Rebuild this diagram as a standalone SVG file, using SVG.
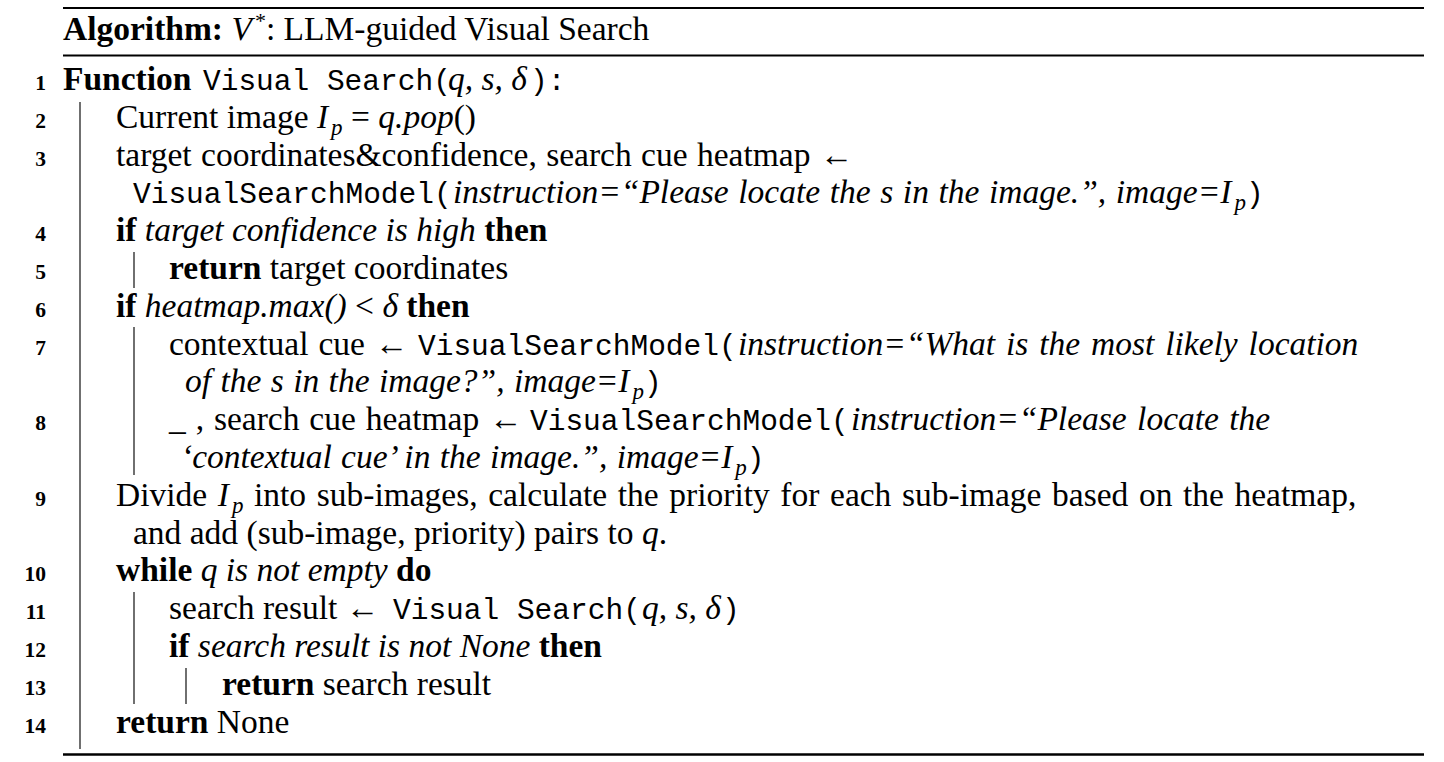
<svg xmlns="http://www.w3.org/2000/svg" width="1444" height="762" viewBox="0 0 1444 762">
<style>
text{font-family:"Liberation Serif","Times New Roman",serif;font-size:33.5px;fill:#000}
.b{font-weight:bold}
.i{font-style:italic}
.m{font-family:"Liberation Mono","Courier New",monospace;font-size:29.5px;font-style:normal;font-weight:normal}
.sub{font-size:23px;font-style:italic}
.n{font-weight:bold;font-size:21.5px;text-anchor:end}
.rule{stroke:#000;fill:none}
.bar{stroke:#222;stroke-width:1.3;fill:none}
</style>
<rect width="1444" height="762" fill="#fff"/>
<g id="rules">
<line class="rule" x1="63" y1="8" x2="1424" y2="8" stroke-width="2.2"/>
<line class="rule" x1="63" y1="55.5" x2="1424" y2="55.5" stroke-width="1.8"/>
<line class="rule" x1="63" y1="754.5" x2="1424" y2="754.5" stroke-width="2.4"/>
</g>
<g id="title">
<text x="63" y="40"><tspan class="b">Algorithm:</tspan> <tspan class="i">V</tspan><tspan font-size="22" dx="3" dy="-12">*</tspan><tspan dy="12">: LLM-guided Visual Search</tspan></text>
</g>
<g id="connectors">
<line class="bar" x1="80" y1="102" x2="80" y2="749"/>
<line class="bar" x1="134" y1="252" x2="134" y2="288"/>
<line class="bar" x1="134" y1="327" x2="134" y2="475"/>
<line class="bar" x1="134" y1="592" x2="134" y2="704"/>
<line class="bar" x1="186" y1="668" x2="186" y2="704"/>
</g>
<g id="linenumbers">
<text class="n" x="46" y="90">1</text>
<text class="n" x="46" y="127.8">2</text>
<text class="n" x="46" y="165.6">3</text>
<text class="n" x="46" y="241.2">4</text>
<text class="n" x="46" y="279">5</text>
<text class="n" x="46" y="316.8">6</text>
<text class="n" x="46" y="354.6">7</text>
<text class="n" x="46" y="430.2">8</text>
<text class="n" x="46" y="505.8">9</text>
<text class="n" x="46" y="581.4">10</text>
<text class="n" x="46" y="619.2">11</text>
<text class="n" x="46" y="657">12</text>
<text class="n" x="46" y="694.8">13</text>
<text class="n" x="46" y="732.6">14</text>
</g>
<g id="line1">
<text x="63" y="90"><tspan class="b">Function</tspan><tspan class="m" x="203">Visual Search(</tspan><tspan class="i" x="448">q, s, δ</tspan><tspan class="m" x="530">):</tspan></text>
</g>
<g id="line2">
<text x="116" y="127.8">Current image <tspan class="i">I</tspan><tspan class="sub" dx="3" dy="7">p</tspan><tspan dy="-7"> = </tspan><tspan class="i">q.pop</tspan>()</text>
</g>
<g id="line3">
<text x="116" y="165.6" word-spacing="1">target coordinates&amp;confidence, search cue heatmap ←</text>
<text y="203.4"><tspan class="m" x="133">VisualSearchModel(</tspan><tspan class="i" x="453" word-spacing="1.2">instruction=“Please locate the s in the image.”, image=I</tspan><tspan class="sub" dx="3" dy="7">p</tspan><tspan class="m" dy="-7">)</tspan></text>
</g>
<g id="line4">
<text x="116" y="241.2"><tspan class="b">if</tspan><tspan class="i"> target confidence is high </tspan><tspan class="b">then</tspan></text>
</g>
<g id="line5">
<text x="169" y="279"><tspan class="b">return</tspan> target coordinates</text>
</g>
<g id="line6">
<text x="116" y="316.8"><tspan class="b">if</tspan><tspan class="i"> heatmap.max()</tspan> &lt; <tspan class="i">δ</tspan> <tspan class="b">then</tspan></text>
</g>
<g id="line7">
<text x="169" y="354.6" word-spacing="1.5">contextual cue ←<tspan class="m" x="418" word-spacing="0">VisualSearchModel(</tspan><tspan class="i" x="738" word-spacing="2.5">instruction=“What is the most likely location</tspan></text>
<text y="392.4"><tspan class="i" x="185" word-spacing="1">of the s in the image?”, image=I</tspan><tspan class="sub" dx="3" dy="7">p</tspan><tspan class="m" dy="-7">)</tspan></text>
</g>
<g id="line8">
<text x="169" y="430.2" word-spacing="1.5">_ , search cue heatmap ←<tspan class="m" x="530" word-spacing="0">VisualSearchModel(</tspan><tspan class="i" x="851" word-spacing="2">instruction=“Please locate the</tspan></text>
<text y="468"><tspan class="i" x="181" word-spacing="1">‘contextual cue’ in the image.”, image=I</tspan><tspan class="sub" dx="3" dy="7">p</tspan><tspan class="m" dy="-7">)</tspan></text>
</g>
<g id="line9">
<text x="116" y="505.8" word-spacing="2.2">Divide <tspan class="i">I</tspan><tspan class="sub" dx="3" dy="7">p</tspan><tspan dy="-7"> into sub-images, calculate the priority for each sub-image based on the heatmap,</tspan></text>
<text x="133" y="543.6">and add (sub-image, priority) pairs to <tspan class="i">q</tspan>.</text>
</g>
<g id="line10">
<text x="116" y="581.4"><tspan class="b">while</tspan><tspan class="i"> q is not empty </tspan><tspan class="b">do</tspan></text>
</g>
<g id="line11">
<text x="169" y="619.2">search result ←<tspan class="m" x="393">Visual Search(</tspan><tspan class="i" x="642">q, s, δ</tspan><tspan class="m" x="722">)</tspan></text>
</g>
<g id="line12">
<text x="169" y="657"><tspan class="b">if</tspan><tspan class="i"> search result is not None </tspan><tspan class="b">then</tspan></text>
</g>
<g id="line13">
<text x="222" y="694.8"><tspan class="b">return</tspan> search result</text>
</g>
<g id="line14">
<text x="116" y="732.6"><tspan class="b">return</tspan> None</text>
</g>
</svg>
